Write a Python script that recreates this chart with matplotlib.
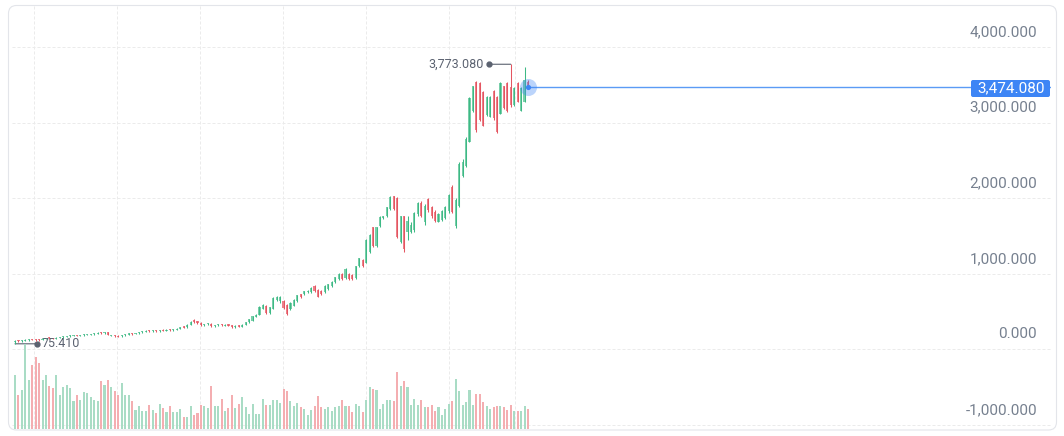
import numpy as np
import matplotlib.pyplot as plt
from matplotlib.patches import FancyBboxPatch
from matplotlib.transforms import IdentityTransform, offset_copy

plt.rcParams['font.family'] = ['Roboto', 'DejaVu Sans']

# candle data (one row = 10 candles)
opens = [
    95, 118, 110, 115, 124, 138, 132, 130, 124, 138,
    156, 150, 144, 156, 162, 168, 174, 180, 190, 182,
    188, 192, 196, 202, 208, 232, 212, 230, 180, 192,
    184, 172, 186, 198, 214, 204, 214, 226, 236, 252,
    240, 256, 244, 262, 248, 266, 254, 262, 274, 306,
    292, 328, 392, 372, 352, 318, 334, 342, 306, 318,
    336, 316, 332, 318, 296, 318, 300, 328, 360, 380,
    430, 462, 540, 575, 480, 540, 650, 640, 640, 590,
    530, 580, 640, 730, 730, 760, 755, 845, 790, 780,
    755, 795, 835, 890, 930, 1005, 940, 1005, 990, 940,
    1100, 1190, 1150, 1285, 1615, 1365, 1630, 1735, 1760, 1855,
    2025, 2010, 1420, 1760, 1560, 1560, 1580, 1790, 1940, 1680,
    1990, 1880, 1820, 1690, 1710, 1740, 1830, 2150, 1630, 1900,
    2300, 2430, 2750, 3150, 3540, 3530, 3410, 3100, 3080, 3420,
    3340, 3120, 3480, 3530, 3470, 3230, 3530, 3160, 3280, 3540,
]
closes = [
    112, 108, 122, 128, 134, 126, 124, 122, 140, 152,
    146, 142, 158, 164, 170, 176, 182, 186, 180, 190,
    194, 198, 204, 210, 222, 214, 226, 195, 188, 176,
    170, 186, 200, 210, 204, 216, 228, 238, 246, 240,
    252, 244, 258, 248, 262, 254, 266, 276, 292, 290,
    330, 370, 360, 344, 318, 336, 348, 308, 320, 332,
    318, 330, 312, 296, 314, 300, 330, 362, 398, 440,
    462, 560, 590, 480, 560, 680, 700, 700, 545, 470,
    620, 660, 715, 690, 770, 775, 820, 770, 700, 730,
    845, 860, 890, 955, 1005, 930, 1070, 930, 930, 1100,
    1205, 1100, 1455, 1520, 1365, 1615, 1750, 1760, 1880, 2015,
    1855, 1485, 1760, 1330, 1700, 1650, 1800, 1940, 1770, 1900,
    1840, 1760, 1700, 1790, 1830, 1880, 2050, 1820, 1980, 2450,
    2480, 2790, 3330, 3480, 2900, 3030, 2960, 3340, 3340, 3060,
    2880, 3530, 3190, 3150, 3230, 3460, 3280, 3460, 3560, 3474.08,
]
highs = [
    120, 125, 128, 135, 140, 142, 136, 134, 146, 158,
    160, 155, 162, 170, 175, 182, 188, 190, 194, 196,
    200, 204, 210, 216, 228, 238, 232, 234, 194, 198,
    188, 192, 206, 216, 220, 222, 234, 244, 252, 258,
    258, 262, 264, 268, 268, 272, 272, 282, 298, 312,
    336, 378, 398, 378, 358, 342, 354, 348, 326, 338,
    342, 336, 338, 324, 320, 324, 336, 368, 404, 446,
    470, 570, 600, 585, 568, 690, 710, 710, 650, 600,
    630, 670, 725, 740, 780, 785, 830, 855, 800, 790,
    855, 870, 900, 965, 1015, 1015, 1080, 1015, 1000, 1110,
    1215, 1200, 1465, 1530, 1625, 1625, 1760, 1770, 1890, 2025,
    2035, 2020, 1770, 1770, 1760, 1680, 1820, 1950, 1960, 1920,
    2010, 1900, 1840, 1800, 1850, 1900, 2060, 2170, 2000, 2480,
    2520, 2810, 3340, 3490, 3550, 3540, 3420, 3350, 3350, 3430,
    3350, 3540, 3490, 3540, 3773.08, 3470, 3540, 3470, 3740, 3560,
]
lows = [
    75.41, 100, 105, 110, 118, 120, 116, 115, 120, 134,
    140, 138, 140, 152, 158, 164, 170, 176, 175, 178,
    184, 188, 192, 198, 204, 210, 208, 190, 174, 170,
    164, 168, 180, 192, 198, 200, 208, 220, 230, 234,
    234, 238, 238, 242, 242, 248, 248, 256, 268, 284,
    286, 322, 352, 336, 312, 312, 328, 302, 300, 312,
    312, 310, 306, 290, 290, 294, 294, 322, 354, 374,
    424, 455, 530, 470, 472, 530, 640, 620, 540, 455,
    520, 570, 630, 680, 720, 750, 745, 760, 690, 720,
    745, 785, 825, 880, 920, 920, 930, 920, 920, 930,
    1090, 1090, 1140, 1275, 1355, 1355, 1620, 1725, 1750, 1845,
    1845, 1475, 1410, 1290, 1450, 1540, 1560, 1770, 1750, 1650,
    1820, 1740, 1680, 1680, 1700, 1720, 1810, 1800, 1610, 1880,
    2280, 2420, 2740, 3140, 2880, 3020, 2950, 3090, 3070, 3040,
    2870, 3110, 3180, 3140, 3210, 3220, 3270, 3150, 3270, 3460,
]
volumes = [
    54, 34, 39, 85, 49, 64, 72, 66, 49, 54,
    43, 41, 54, 34, 42, 44, 41, 28, 34, 29,
    37, 36, 32, 29, 28, 48, 44, 49, 42, 38,
    34, 46, 34, 34, 28, 19, 23, 18, 18, 24,
    19, 16, 25, 21, 17, 23, 17, 17, 20, 12,
    12, 23, 14, 16, 24, 23, 21, 43, 23, 23,
    30, 18, 21, 34, 21, 25, 32, 22, 15, 25,
    15, 15, 30, 24, 24, 29, 29, 26, 40, 38,
    28, 23, 26, 22, 20, 14, 19, 23, 33, 22,
    20, 22, 18, 22, 23, 29, 23, 23, 17, 25,
    23, 17, 29, 42, 40, 39, 20, 25, 29, 29,
    28, 57, 43, 48, 42, 24, 30, 24, 29, 22,
    22, 24, 18, 22, 14, 20, 25, 28, 50, 38,
    24, 27, 39, 24, 35, 35, 27, 23, 20, 22,
    23, 23, 22, 19, 24, 18, 18, 18, 23, 20,
]
price_ticks = [-1000, 0, 1000, 2000, 3000, 4000]
# candle positions where the dashed time grid lines sit
time_grid = [5.5, 29.6, 53.7, 77.8, 101.9, 126.1, 145.2]

UP_BODY, DOWN_BODY = "#7ACFAA", "#EC8089"
UP_WICK, DOWN_WICK = "#3DB985", "#E45561"
UP_VOL, DOWN_VOL = "#A9DCC5", "#F4AEB1"
GRID = "#EBEBEB"
AXIS_TEXT = "#76808F"
MARK = "#5B6270"
BLUE = "#3D85F5"

W, H = 1064, 436
fig = plt.figure(figsize=(W / 100, H / 100), dpi=100)


def fx(px):
    return px / W


def fy(py):
    return 1 - py / H


# price pane and volume overlay share the same horizontal extent
ax = fig.add_axes([fx(12), fy(429), fx(1051) - fx(12), fy(5) - fy(429)])
ax_vol = fig.add_axes([fx(12), fy(429), fx(1051) - fx(12), 90 / H])
xlim = (-0.871, 300.9)
ax.set_xlim(*xlim)
ax.set_ylim(-1051.6, 4556.9)
ax_vol.set_xlim(*xlim)
ax_vol.set_ylim(0, 90)
for a in (ax, ax_vol):
    a.set_axis_off()
ax_vol.patch.set_visible(False)

# dashed grid
for v in price_ticks:
    ax.axhline(v, color=GRID, lw=0.72, ls=(0, (3, 2)), zorder=0)
for g in time_grid:
    ax.axvline(g, color=GRID, lw=0.72, ls=(0, (3, 2)), zorder=0)

o = np.array(opens, dtype=float)
c = np.array(closes, dtype=float)
h = np.array(highs, dtype=float)
l = np.array(lows, dtype=float)
x = np.arange(len(c))
up = c >= o

# candles
body_h = np.maximum(np.abs(c - o), 14)
ax.bar(x, body_h, bottom=np.minimum(o, c), width=0.62,
       color=np.where(up, UP_BODY, DOWN_BODY), linewidth=0, zorder=3)
ax.vlines(x, l, h, colors=np.where(up, UP_WICK, DOWN_WICK), lw=0.75, zorder=4)

# volume
ax_vol.bar(x, volumes, width=0.6, color=np.where(up, UP_VOL, DOWN_VOL),
           linewidth=0)

# y axis labels sit above their grid line
for v in price_ticks:
    ax.annotate(f"{v:,.3f}", xy=(1, v), xycoords=("axes fraction", "data"),
                xytext=(-14, 15), textcoords="offset pixels",
                ha="right", va="center", color=AXIS_TEXT, fontsize=11)

# high / low marks
hi = int(np.argmax(h))
ax.annotate("", xy=(hi, h[hi]), xytext=(-22, 0), textcoords="offset pixels",
            arrowprops=dict(arrowstyle="-", color=MARK, lw=0.8,
                            shrinkA=0, shrinkB=0))
ax.plot(hi, h[hi], "o", ms=3.5, color=MARK,
        transform=offset_copy(ax.transData, fig=fig, x=-22, y=0, units="dots"))
ax.annotate(f"{h[hi]:,.3f}", xy=(hi, h[hi]), xytext=(-27, 0),
            textcoords="offset pixels", ha="right", va="center",
            fontsize=9, color=MARK)

lo = int(np.argmin(l))
ax.annotate("", xy=(lo, l[lo]), xytext=(22, 0), textcoords="offset pixels",
            arrowprops=dict(arrowstyle="-", color=MARK, lw=0.8,
                            shrinkA=0, shrinkB=0))
ax.plot(lo, l[lo], "o", ms=3.5, color=MARK,
        transform=offset_copy(ax.transData, fig=fig, x=22, y=0, units="dots"))
ax.annotate(f"{l[lo]:,.3f}", xy=(lo, l[lo]), xytext=(27, 0),
            textcoords="offset pixels", ha="left", va="center",
            fontsize=9, color=MARK)

# last price line, pulse dot and label
last = c[-1]
ax.plot([x[-1], xlim[1]], [last, last], color="#5B9BF5", lw=1.0, zorder=5,
        solid_capstyle="butt")
ax.scatter([x[-1]], [last], s=150, color=BLUE, alpha=0.35, lw=0, zorder=6)
ax.scatter([x[-1]], [last], s=14, color=BLUE, lw=0, zorder=7)

fig.add_artist(FancyBboxPatch((971, H - 97), 79, 17,
                              boxstyle="round,pad=0,rounding_size=2",
                              transform=IdentityTransform(),
                              fc=BLUE, ec="none"))
fig.text(fx(1045), fy(88.5), f"{last:,.3f}", ha="right", va="center",
         color="white", fontsize=11)

# card frame
fig.add_artist(FancyBboxPatch((8.5, H - 430), 1048, 424.5,
                              boxstyle="round,pad=0,rounding_size=8",
                              transform=IdentityTransform(),
                              fill=False, ec="#E3E5EA", lw=0.8))

fig.savefig("out.png", dpi=100)
